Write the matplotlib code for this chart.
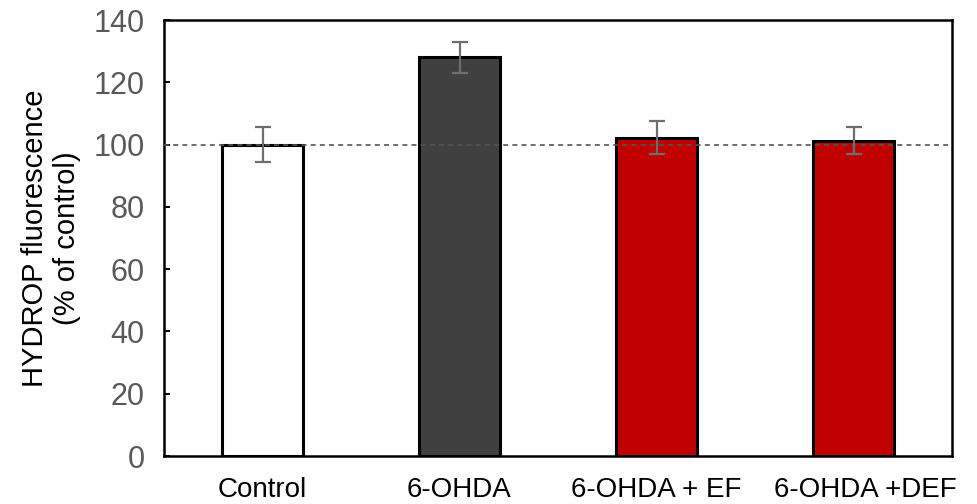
import matplotlib
matplotlib.use("Agg")
import matplotlib.pyplot as plt
from matplotlib.transforms import ScaledTranslation

plt.rcParams['font.family'] = ['Liberation Sans', 'DejaVu Sans']

categories = ["Control", "6-OHDA", "6-OHDA + EF", "6-OHDA +DEF"]
values = [100.0, 128.0, 102.2, 101.2]
errors = [5.5, 5.0, 5.3, 4.3]
colors = ["#FFFFFF", "#404040", "#C00000", "#C00000"]
yticks = [0, 20, 40, 60, 80, 100, 120, 140]

fig = plt.figure(figsize=(9.77, 5.04), dpi=100)
ax = fig.add_axes([164/977, 1 - 456/504, (952 - 164)/977, (456 - 20)/504])

x = list(range(len(categories)))
ax.bar(x, values, width=0.41, color=colors, edgecolor="black", linewidth=2.2, zorder=2)
ax.errorbar(x, values, yerr=errors, fmt="none", ecolor="#6E6E6E",
            elinewidth=1.6, capsize=6, capthick=1.6, zorder=4)
ax.axhline(100, color="#555555", linestyle=(0, (3, 2.5)), linewidth=1.2, zorder=3)

ax.set_xlim(-0.5, 3.5)
ax.set_ylim(0, 140)
ax.set_yticks(yticks)
ax.set_yticklabels([str(v) for v in yticks], fontsize=22, color="#595959")
ax.set_xticks(x)
ax.set_xticklabels(categories, fontsize=20, color="black")
ax.tick_params(axis="x", length=0, pad=15)
ax.tick_params(axis="y", direction="in", length=4, width=1.4, color="black", pad=14)
for s in ax.spines.values():
    s.set_linewidth(1.8)
    s.set_color("black")

# nudge the last category label slightly to the right
last = ax.get_xticklabels()[-1]
last.set_transform(last.get_transform() + ScaledTranslation(12/100, 0, fig.dpi_scale_trans))

ax.set_ylabel("HYDROP fluorescence\n(% of control)", fontsize=21, linespacing=1.17, labelpad=9)

fig.savefig("out.png", dpi=100)
